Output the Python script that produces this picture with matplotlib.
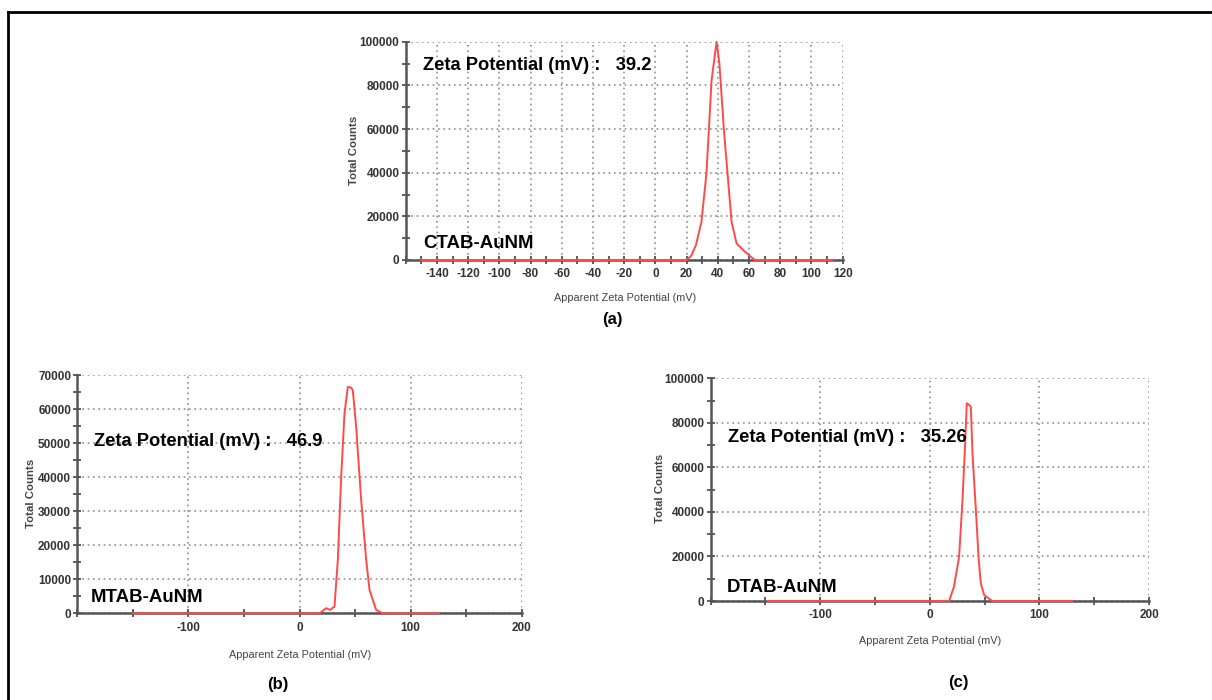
import matplotlib
matplotlib.use('Agg')
import matplotlib.pyplot as plt
from matplotlib.ticker import FixedLocator, MultipleLocator
from matplotlib.lines import Line2D

plt.rcParams['axes.unicode_minus'] = False

W, H = 1212, 700

# panel (a) CTAB
a_x = [-150, 20, 23, 26, 29.5, 32.7, 36, 39.2, 41, 43.9, 46.2, 48.8, 52, 57.3, 63.7, 113.5]
a_y = [0, 0, 2000, 6900, 17500, 39700, 82500, 100000, 90000, 59500, 39700, 17500, 7600, 3800, 0, 0]
# panel (b) MTAB
b_x = [-150, 18, 24, 27.6, 31.5, 34.5, 37.5, 40.5, 43.5, 46.5, 48, 51, 55.5, 60, 63, 69, 75, 125.5]
b_y = [0, 0, 1500, 1000, 2000, 15700, 40000, 58700, 66500, 66300, 65500, 54700, 33300, 15700, 6900, 1000, 0, 0]
# panel (c) DTAB
c_x = [-148, 17.6, 22, 26.7, 29.8, 32.2, 33.7, 35.9, 37.4, 38.9, 42, 44.4, 46.5, 49.6, 55.7, 57, 130]
c_y = [0, 0, 6400, 19900, 45400, 70800, 88800, 88000, 87300, 66300, 40900, 19900, 7900, 2700, 450, 0, 0]

zeta = ['39.2', '46.9', '35.26']
names = ['CTAB-AuNM', 'MTAB-AuNM', 'DTAB-AuNM']
letters = ['(a)', '(b)', '(c)']

narrow = ['Liberation Sans Narrow', 'Liberation Sans', 'DejaVu Sans']
bold = ['Liberation Sans', 'DejaVu Sans']


def fx(x):
    return x / W


def fy(y):
    return 1 - y / H


fig = plt.figure(figsize=(12.12, 7.0), dpi=100)

# frame lines (only top and left visible in the crop)
fig.add_artist(Line2D([fx(8), 1], [fy(12), fy(12)], color='black', lw=2))
fig.add_artist(Line2D([fx(8), fx(8)], [fy(12), 0], color='black', lw=2))


def make_panel(box, x, y, xlim, ylim, xmaj, xmin, ymaj, ymin):
    l, r, t, b = box
    ax = fig.add_axes([fx(l), fy(b), fx(r - l), (b - t) / H])
    ax.plot(x, y, color='#ff4a4a', lw=1.4, zorder=4, clip_on=False)
    ax.set_xlim(*xlim)
    ax.set_ylim(*ylim)
    ax.xaxis.set_major_locator(FixedLocator(xmaj))
    ax.xaxis.set_minor_locator(MultipleLocator(xmin))
    ax.yaxis.set_major_locator(MultipleLocator(ymaj))
    ax.yaxis.set_minor_locator(MultipleLocator(ymin))
    ax.grid(True, which='major', color='#8f8f8f', lw=1.2, linestyle=(0, (1, 2.2)))
    for s in ['top', 'right']:
        ax.spines[s].set_visible(False)
    for s in ['left', 'bottom']:
        ax.spines[s].set_color('#555555')
        ax.spines[s].set_linewidth(1.8)
        ax.spines[s].set_zorder(3)
    ax.tick_params(which='both', direction='inout', color='#444444', width=1.2)
    ax.tick_params(which='major', length=6, labelsize=8.5, labelcolor='#333333', pad=3)
    ax.tick_params(axis='y', which='major', pad=1.5)
    ax.tick_params(which='minor', length=6)
    for lab in ax.get_xticklabels() + ax.get_yticklabels():
        lab.set_family(narrow)
        lab.set_fontweight('bold')
    return ax


ax_a = make_panel((405.7, 842.7, 41.7, 260), a_x, a_y, (-160, 120), (0, 100000),
                  list(range(-140, 121, 20)), 10, 20000, 10000)
ax_b = make_panel((77.3, 521.7, 375, 613.3), b_x, b_y, (-200, 200), (0, 70000),
                  [-100, 0, 100, 200], 50, 10000, 5000)
ax_c = make_panel((710.7, 1149, 378.3, 601), c_x, c_y, (-200, 200), (0, 100000),
                  [-100, 0, 100, 200], 50, 20000, 10000)

# axis labels
ylab_pos = [(354, 150), (31, 493), (660, 488)]
xlab_pos = [(625, 298), (300, 655), (930, 641)]
for (px, py) in ylab_pos:
    fig.text(fx(px), fy(py), 'Total Counts', rotation=90, ha='center', va='center',
             fontsize=8.2, color='#444444', family=narrow, fontweight='bold')
for (px, py) in xlab_pos:
    fig.text(fx(px), fy(py), 'Apparent Zeta Potential (mV)', ha='center', va='center',
             fontsize=7.8, color='#444444', family=narrow)

# annotations
zeta_pos = [(423, 66), (94, 442), (728, 437)]
name_pos = [(423, 243), (91, 598), (727, 587)]
letter_pos = [(612, 320), (278, 685), (958, 682)]
for i in range(3):
    fig.text(fx(zeta_pos[i][0]), fy(zeta_pos[i][1]), 'Zeta Potential (mV) :   ' + zeta[i],
             ha='left', va='center', fontsize=13.2, fontweight='bold', family=bold)
    fig.text(fx(name_pos[i][0]), fy(name_pos[i][1]), names[i],
             ha='left', va='center', fontsize=13.4, fontweight='bold', family=bold)
    fig.text(fx(letter_pos[i][0]), fy(letter_pos[i][1]), letters[i],
             ha='center', va='center', fontsize=12, fontweight='bold', family=bold)

plt.savefig('out.png', dpi=100)
